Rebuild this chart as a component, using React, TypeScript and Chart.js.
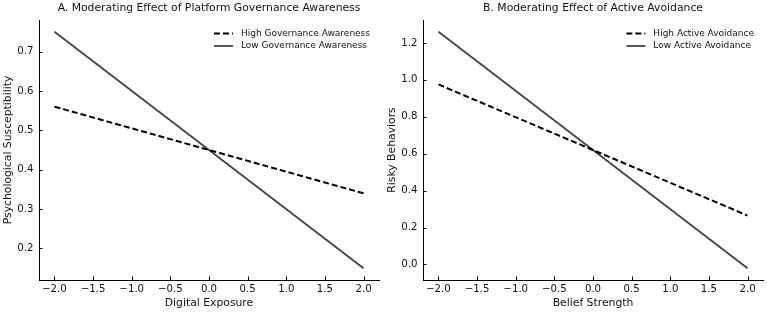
import React, { useEffect, useRef } from "react";
import { Chart, registerables } from "chart.js";

Chart.register(...registerables);

// Shared x values (endpoints of the simple-slope lines) and x tick labels
const xValues = [-2, 2];
const xTickValues = [-2, -1.5, -1, -0.5, 0, 0.5, 1, 1.5, 2];

// Panel A: psychological susceptibility by digital exposure
const governanceHigh = [0.56, 0.34];
const governanceLow = [0.75, 0.15];
const governanceYTicks = [0.2, 0.3, 0.4, 0.5, 0.6, 0.7];

// Panel B: risky behaviors by belief strength
const avoidanceHigh = [0.975, 0.265];
const avoidanceLow = [1.26, -0.02];
const avoidanceYTicks = [0.0, 0.2, 0.4, 0.6, 0.8, 1.0, 1.2];

const FONT = "'DejaVu Sans', 'Liberation Sans', sans-serif";
const TEXT_COLOR = "#111111";
const DASHED_COLOR = "#000000";
const SOLID_COLOR = "#444444";

type Panel = {
  title: string;
  xLabel: string;
  yLabel: string;
  highLabel: string;
  lowLabel: string;
  high: number[];
  low: number[];
  yTicks: number[];
};

const panels: Panel[] = [
  {
    title: "A. Moderating Effect of Platform Governance Awareness",
    xLabel: "Digital Exposure",
    yLabel: "Psychological Susceptibility",
    highLabel: "High Governance Awareness",
    lowLabel: "Low Governance Awareness",
    high: governanceHigh,
    low: governanceLow,
    yTicks: governanceYTicks,
  },
  {
    title: "B. Moderating Effect of Active Avoidance",
    xLabel: "Belief Strength",
    yLabel: "Risky Behaviors",
    highLabel: "High Active Avoidance",
    lowLabel: "Low Active Avoidance",
    high: avoidanceHigh,
    low: avoidanceLow,
    yTicks: avoidanceYTicks,
  },
];

// 5% padding on each side of the data range, like matplotlib's autoscale
function paddedRange(values: number[]) {
  const lo = Math.min(...values);
  const hi = Math.max(...values);
  const m = (hi - lo) * 0.05;
  return { min: lo - m, max: hi + m };
}

function fmt(v: number) {
  const s = Math.abs(v).toFixed(1);
  return v < -1e-9 ? "\u2212" + s : s;
}

// Title above the plot area, inward tick marks and a frameless legend
const decorPlugin = {
  id: "decor",
  afterDraw(chart: any, _args: any, opts: any) {
    const { ctx, chartArea } = chart;
    const xs = chart.scales.x;
    const ys = chart.scales.y;
    ctx.save();

    // title
    ctx.fillStyle = TEXT_COLOR;
    ctx.font = `10.8px ${FONT}`;
    ctx.textAlign = "center";
    ctx.textBaseline = "middle";
    ctx.fillText(opts.title, (chartArea.left + chartArea.right) / 2, 8);

    // inward ticks
    ctx.strokeStyle = "#000";
    ctx.lineWidth = 1;
    ctx.beginPath();
    for (const v of xTickValues) {
      const px = Math.round(xs.getPixelForValue(v)) + 0.5;
      ctx.moveTo(px, chartArea.bottom);
      ctx.lineTo(px, chartArea.bottom - 3.5);
    }
    for (const v of opts.yTicks as number[]) {
      const py = Math.round(ys.getPixelForValue(v)) + 0.5;
      ctx.moveTo(chartArea.left, py);
      ctx.lineTo(chartArea.left + 3.5, py);
    }
    ctx.stroke();

    // legend
    ctx.font = `9px ${FONT}`;
    const ds = chart.data.datasets;
    const handle = 19;
    const gap = 8;
    const textW = Math.max(...ds.map((d: any) => ctx.measureText(d.label).width));
    const x0 = chartArea.right - 9 - textW - gap - handle;
    const rowYs = [33.5, 46];
    ds.forEach((d: any, i: number) => {
      const y = rowYs[i];
      ctx.strokeStyle = d.borderColor;
      ctx.lineWidth = d.borderWidth;
      ctx.setLineDash(d.borderDash || []);
      ctx.beginPath();
      ctx.moveTo(x0, y);
      ctx.lineTo(x0 + handle, y);
      ctx.stroke();
      ctx.setLineDash([]);
      ctx.fillStyle = TEXT_COLOR;
      ctx.textAlign = "left";
      ctx.textBaseline = "middle";
      ctx.fillText(d.label, x0 + handle + gap, y);
    });
    ctx.restore();
  },
};

function PanelChart({ panel, width, rightPad }: { panel: Panel; width: number; rightPad: number }) {
  const ref = useRef<HTMLCanvasElement | null>(null);

  useEffect(() => {
    if (!ref.current) return;
    const xr = paddedRange(xValues);
    const yr = paddedRange([...panel.high, ...panel.low]);
    const chart = new Chart(ref.current, {
      type: "scatter",
      data: {
        datasets: [
          {
            label: panel.highLabel,
            data: xValues.map((x, i) => ({ x, y: panel.high[i] })),
            showLine: true,
            borderColor: DASHED_COLOR,
            borderWidth: 2,
            borderDash: [6, 3],
            pointRadius: 0,
          },
          {
            label: panel.lowLabel,
            data: xValues.map((x, i) => ({ x, y: panel.low[i] })),
            showLine: true,
            borderColor: SOLID_COLOR,
            borderWidth: 1.8,
            pointRadius: 0,
          },
        ],
      },
      options: {
        responsive: false,
        animation: false,
        devicePixelRatio: 1,
        layout: { padding: { top: 20, right: rightPad, left: 0, bottom: 0 } },
        plugins: {
          legend: { display: false },
          tooltip: { enabled: false },
          decor: { title: panel.title, yTicks: panel.yTicks },
        } as any,
        scales: {
          x: {
            type: "linear",
            min: xr.min,
            max: xr.max,
            afterFit: (s: any) => {
              s.height = 32;
            },
            afterBuildTicks: (s: any) => {
              s.ticks = xTickValues.map((v) => ({ value: v }));
            },
            grid: { display: false, drawTicks: false },
            border: { display: true, color: "#000", width: 1 },
            ticks: {
              padding: 3,
              color: TEXT_COLOR,
              font: { family: FONT, size: 10.2 },
              callback: (v: any) => fmt(Number(v)),
              maxRotation: 0,
              autoSkip: false,
            },
            title: {
              display: true,
              text: panel.xLabel,
              color: TEXT_COLOR,
              font: { family: FONT, size: 10.8 },
              padding: { top: 0, bottom: 2.5 },
            },
          },
          y: {
            type: "linear",
            min: yr.min,
            max: yr.max,
            afterFit: (s: any) => {
              s.width = 39;
            },
            afterBuildTicks: (s: any) => {
              s.ticks = panel.yTicks.map((v) => ({ value: v }));
            },
            grid: { display: false, drawTicks: false },
            border: { display: true, color: "#000", width: 1 },
            ticks: {
              padding: 5.5,
              color: TEXT_COLOR,
              font: { family: FONT, size: 10.2 },
              callback: (v: any) => fmt(Number(v)),
              autoSkip: false,
            },
            title: {
              display: true,
              text: panel.yLabel,
              color: TEXT_COLOR,
              font: { family: FONT, size: 10.8 },
              padding: { top: 1.5, bottom: 0 },
            },
          },
        },
      },
      plugins: [decorPlugin],
    });
    return () => chart.destroy();
  }, [panel]);

  return <canvas ref={ref} width={width} height={312} style={{ display: "block", width, height: 312 }} />;
}

export default function App() {
  return (
    <div
      style={{
        position: "absolute",
        left: 0,
        top: 0,
        width: 767,
        height: 312,
        background: "#fff",
        display: "flex",
      }}
    >
      <PanelChart panel={panels[0]} width={384} rightPad={5} />
      <PanelChart panel={panels[1]} width={383} rightPad={4} />
    </div>
  );
}
